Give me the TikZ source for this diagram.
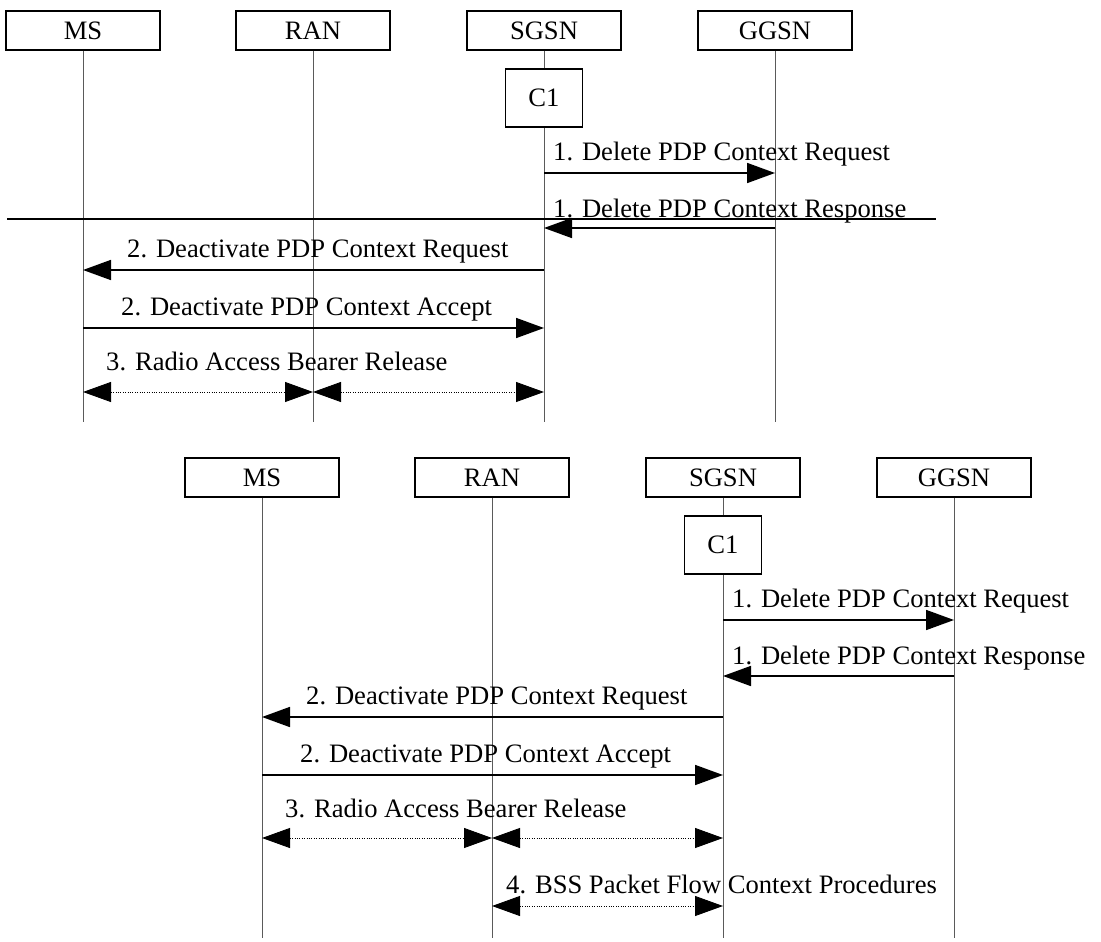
\documentclass[tikz,border=0pt]{standalone}
\usepackage{fontspec}
\setmainfont{Liberation Serif}
\usepackage{tikz}
\usetikzlibrary{arrows.meta,positioning}
\definecolor{LifeGray}{HTML}{5A5A5A}
\newcommand{\msgfont}{\fontsize{26.6}{30}\selectfont}

\begin{document}
\begin{tikzpicture}[x=1pt,y=-1pt,
  entity/.style={draw,line width=1.4pt,minimum width=154pt,minimum height=39pt,inner sep=0pt,font=\msgfont},
  cbox/.style={draw,fill=white,line width=1.4pt,minimum width=77pt,minimum height=58pt,inner sep=0pt,font=\msgfont},
  life/.style={draw=LifeGray,line width=1pt},
  msg/.style={line width=1.7pt,-{Triangle[length=28pt,width=20pt]}},
  proc/.style={line width=0.9pt,dash pattern=on 1pt off 1.4pt,
    {Triangle[length=28pt,width=20pt]}-{Triangle[length=28pt,width=20pt]}},
  lbl/.style={font=\msgfont,anchor=base west,inner sep=0pt}]
  \useasboundingbox (0,0) rectangle (1101,942);

  % upper chart
  \node[entity] (ms)   at (83,30.5)  {MS};
  \node[entity] (ran)  at (313,30.5) {RAN};
  \node[entity] (sgsn) at (544,30.5) {SGSN};
  \node[entity] (ggsn) at (775,30.5) {GGSN};
  \coordinate (bot) at (0,422);
  \foreach \e in {ms,ran,sgsn,ggsn}
    \draw[life] (\e.south) -- (\e |- bot);
  \node[cbox] (c1) at (544,98) {C1};

  \coordinate (r1) at (0,173);
  \coordinate (r2) at (0,228);
  \coordinate (r3) at (0,270);
  \coordinate (r4) at (0,328);
  \coordinate (r5) at (0,392);
  \node[lbl] (t1) at (553,160) {1. Delete PDP Context Request};
  \draw[msg] (sgsn |- r1) -- (ggsn |- r1);
  \node[lbl] (t2) at (553,217) {1. Delete PDP Context Response};
  \draw[msg] (ggsn |- r2) -- (sgsn |- r2);
  \node[lbl] (t3) at (127,257) {2. Deactivate PDP Context Request};
  \draw[msg] (sgsn |- r3) -- (ms |- r3);
  \node[lbl] (t4) at (121,315) {2. Deactivate PDP Context Accept};
  \draw[msg] (ms |- r4) -- (sgsn |- r4);
  \node[lbl] (t5) at (106,370) {3. Radio Access Bearer Release};
  \draw[proc] (ms |- r5) -- (ran |- r5);
  \draw[proc] (ran |- r5) -- (sgsn |- r5);

  \coordinate (cutL) at (7,219);
  \coordinate (cutR) at (936,219);
  \draw[line width=1.6pt] (cutL) -- (cutR);

  % lower chart
  \begin{scope}[shift={(179,447)}]
    \node[entity] (ms2)   at (83,30.5)  {MS};
    \node[entity] (ran2)  at (313,30.5) {RAN};
    \node[entity] (sgsn2) at (544,30.5) {SGSN};
    \node[entity] (ggsn2) at (775,30.5) {GGSN};
    \coordinate (bot2) at (0,491);
    \foreach \e in {ms2,ran2,sgsn2,ggsn2}
      \draw[life] (\e.south) -- (\e |- bot2);
    \node[cbox] (c2) at (544,98) {C1};

    \coordinate (s1) at (0,173);
    \coordinate (s2) at (0,229);
    \coordinate (s3) at (0,270);
    \coordinate (s4) at (0,328);
    \coordinate (s5) at (0,391);
    \coordinate (s6) at (0,459);
    \node[lbl] (u1) at (553,160) {1. Delete PDP Context Request};
    \draw[msg] (sgsn2 |- s1) -- (ggsn2 |- s1);
    \node[lbl] (u2) at (553,217) {1. Delete PDP Context Response};
    \draw[msg] (ggsn2 |- s2) -- (sgsn2 |- s2);
    \node[lbl] (u3) at (127,257) {2. Deactivate PDP Context Request};
    \draw[msg] (sgsn2 |- s3) -- (ms2 |- s3);
    \node[lbl] (u4) at (121,315) {2. Deactivate PDP Context Accept};
    \draw[msg] (ms2 |- s4) -- (sgsn2 |- s4);
    \node[lbl] (u5) at (106,370) {3. Radio Access Bearer Release};
    \draw[proc] (ms2 |- s5) -- (ran2 |- s5);
    \draw[proc] (ran2 |- s5) -- (sgsn2 |- s5);
    \node[lbl] (u6) at (327,446) {4. BSS Packet Flow Context Procedures};
    \draw[proc] (ran2 |- s6) -- (sgsn2 |- s6);
  \end{scope}
\end{tikzpicture}
\end{document}
